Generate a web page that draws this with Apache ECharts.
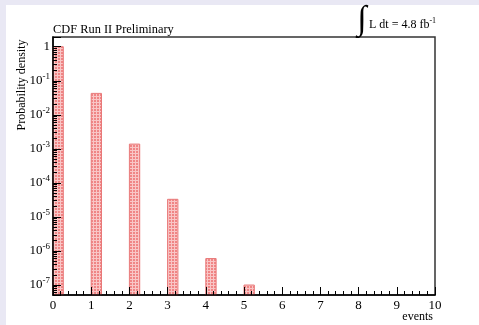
<!DOCTYPE html>
<html><head><meta charset="utf-8">
<script src="https://cdn.jsdelivr.net/npm/echarts@6/dist/echarts.min.js"></script>
<style>html,body{margin:0;padding:0;background:#e9e8f4;}#c{width:479px;height:325px;}</style>
</head><body><div id="c"></div>
<script>
const events = [0, 1, 2, 3, 4, 5];
const density = [1.0, 0.0426, 1.38e-3, 3.3e-5, 6.0e-7, 1.0e-7];
const xTicks = [0,1,2,3,4,5,6,7,8,9,10];
const yTickExps = [0,-1,-2,-3,-4,-5,-6,-7];

const YMIN = 5.1e-8, YMAX = 1.93, BINW = 0.27;
const FONT = '"Liberation Serif","DejaVu Serif",serif';

// pattern fill
const pc = document.createElement('canvas'); pc.width = 3; pc.height = 3;
const g = pc.getContext('2d');
g.fillStyle = '#f08585'; g.fillRect(0,0,3,3);
g.fillStyle = '#f9c6c6'; g.fillRect(0,0,3,1); g.fillRect(0,0,1,3);

const chart = echarts.init(document.getElementById('c'));
const supRich = {sup:{fontSize:9, verticalAlign:'top', padding:[0,0,8,0], fontFamily:FONT, color:'#000'}};
chart.setOption({
  backgroundColor: 'transparent',
  animation: false,
  graphic: [
    {type:'rect', shape:{x:6,y:5,width:473,height:320}, style:{fill:'#fff'}, z:-10, silent:true},
    {type:'text', x:53, y:36, style:{text:'CDF Run II Preliminary', font:'12.4px '+FONT, fill:'#000', textVerticalAlign:'bottom'}},
    {type:'text', x:22, y:85, rotation:Math.PI/2, style:{text:'Probability density', font:'12px '+FONT, fill:'#000', align:'center', verticalAlign:'middle'}},
    {type:'text', x:433, y:317, style:{text:'events', font:'12px '+FONT, fill:'#000', align:'right', verticalAlign:'middle'}},
    {type:'text', x:362, y:20, style:{text:'\u222B', font:'34px '+FONT, fill:'#000', align:'center', verticalAlign:'middle'}},
    {type:'text', x:369, y:25, style:{text:'L dt = 4.8 fb{s|-1}', rich:{s:{fontSize:8, fontFamily:FONT, padding:[0,0,8,0]}}, font:'12px '+FONT, fill:'#000', verticalAlign:'middle'}}
  ],
  grid: {left:53, top:37, right:44, bottom:30, show:true, borderColor:'#333', borderWidth:1.5, backgroundColor:'#fff'},
  xAxis: {
    type:'value', min:xTicks[0], max:xTicks[xTicks.length-1], interval:1, z:10,
    axisLine:{show:true, onZero:false, lineStyle:{color:'#000', width:1.5}},
    axisTick:{show:true, inside:true, length:8, lineStyle:{color:'#000'}},
    minorTick:{show:true, splitNumber:5, length:4, lineStyle:{color:'#000'}},
    splitLine:{show:false},
    axisLabel:{fontFamily:FONT, fontSize:13, color:'#000', margin:4, showMaxLabel:true}
  },
  yAxis: {
    type:'log', logBase:10, min:YMIN, max:YMAX, z:10,
    axisLine:{show:true, lineStyle:{color:'#000', width:1.5}},
    axisTick:{show:true, inside:true, length:8, lineStyle:{color:'#000'}},
    minorTick:{show:true, splitNumber:9, length:4, lineStyle:{color:'#000'}},
    splitLine:{show:false},
    axisLabel:{fontFamily:FONT, fontSize:13, color:'#000', margin:3, showMinLabel:false, showMaxLabel:false,
      rich:supRich,
      formatter:function(v){
        const e = Math.round(Math.log10(v));
        if (Math.abs(Math.log10(v)-e) > 1e-6) return '';
        if (yTickExps.indexOf(e) < 0) return '';
        return e === 0 ? '1' : '10{sup|' + e + '}';
      }}
  },
  series: [{
    type:'custom',
    data: events.map((e,i)=>[e, density[i]]),
    renderItem:function(params, api){
      const x0 = api.value(0), v = api.value(1);
      const p0 = api.coord([x0, v]);
      const p1 = api.coord([x0 + BINW, YMIN]);
      return {type:'rect', shape:{x:p0[0], y:p0[1], width:p1[0]-p0[0], height:p1[1]-p0[1]},
        style:{fill:{image:pc, repeat:'repeat'}, stroke:'#e87878', lineWidth:1}};
    },
    z:1
  }]
});
</script></body></html>
